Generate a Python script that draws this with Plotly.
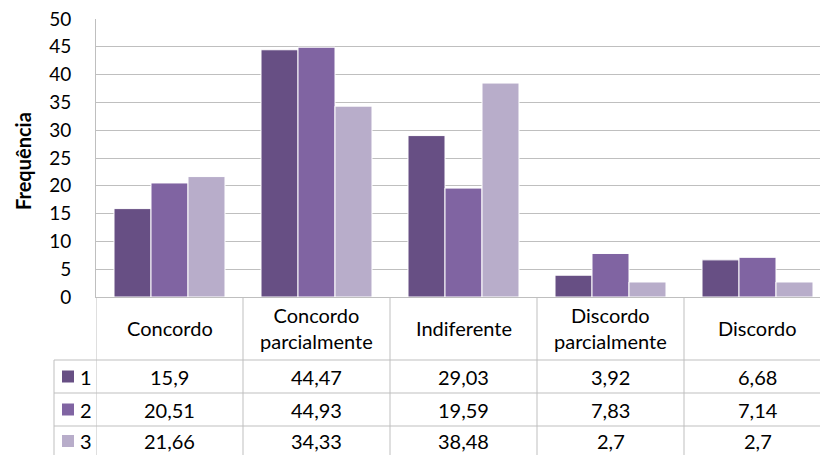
import plotly.graph_objects as go

categories = ["Concordo", "Concordo<br>parcialmente", "Indiferente", "Discordo<br>parcialmente", "Discordo"]
series_names = ["1", "2", "3"]
s1 = [15.9, 44.47, 29.03, 3.92, 6.68]
s2 = [20.51, 44.93, 19.59, 7.83, 7.14]
s3 = [21.66, 34.33, 38.48, 2.7, 2.7]
labels1 = ["15,9", "44,47", "29,03", "3,92", "6,68"]
labels2 = ["20,51", "44,93", "19,59", "7,83", "7,14"]
labels3 = ["21,66", "34,33", "38,48", "2,7", "2,7"]
colors = ["#674F84", "#8064A2", "#B8ADCA"]

W, H = 820, 455
L, T, B_AX = 96, 19, 297
CAT_W = 147
plot_w = W - L
plot_h = B_AX - T

def py(p):
    return (B_AX - p) / plot_h

def pxp(p):
    return (p - L) / plot_w

FONT = "Lato, Carlito, Open Sans, sans-serif"
GRID = "#BFBFBF"

idx = list(range(len(categories)))
fig = go.Figure()
for name, vals, col in zip(series_names, [s1, s2, s3], colors):
    fig.add_trace(go.Bar(x=idx, y=vals, name=name, marker=dict(color=col, line=dict(color="#FFFFFF", width=1))))

x_end = -0.5 + plot_w / CAT_W
fig.update_layout(
    width=W, height=H,
    margin=dict(l=L, r=0, t=T, b=H - B_AX),
    paper_bgcolor="white", plot_bgcolor="white",
    barmode="group", bargap=0.245, bargroupgap=0,
    showlegend=False,
    font=dict(family=FONT, color="#000000"),
    xaxis=dict(range=[-0.5, x_end], showticklabels=False, showgrid=False, zeroline=False,
               showline=True, linecolor=GRID, linewidth=1, ticks=""),
    yaxis=dict(range=[0, 50], dtick=5, tick0=0, showgrid=True, gridcolor=GRID, gridwidth=1,
               zeroline=False, showline=True, linecolor=GRID, linewidth=1, ticks="",
               tickfont=dict(size=19, family=FONT), ticklabelstandoff=20),
)

shapes = []
for i in range(len(categories) + 1):
    shapes.append(dict(type="line", xref="x", yref="paper", x0=i - 0.5, x1=i - 0.5,
                       y0=py(455), y1=py(297), line=dict(color=GRID, width=1)))
shapes.append(dict(type="line", xref="paper", yref="paper", x0=pxp(54), x1=pxp(54),
                   y0=py(455), y1=py(360), line=dict(color=GRID, width=1)))
for yy in [360, 393, 426]:
    shapes.append(dict(type="line", xref="paper", yref="paper", x0=pxp(54), x1=1,
                       y0=py(yy), y1=py(yy), line=dict(color=GRID, width=1)))

annotations = []
annotations.append(dict(text="<b>Frequência</b>", xref="paper", yref="paper", x=pxp(23), y=py(161),
                        textangle=-90, showarrow=False, font=dict(size=20, family=FONT),
                        xanchor="center", yanchor="middle"))
for i, c in enumerate(categories):
    annotations.append(dict(text=c, xref="x", yref="paper", x=i, y=py(328), showarrow=False,
                            font=dict(size=20, family=FONT), xanchor="center", yanchor="middle"))
row_centers = [376.5, 409.5, 441]
for r, (labs, col, nm) in enumerate(zip([labels1, labels2, labels3], colors, series_names)):
    yc = row_centers[r]
    for i, t in enumerate(labs):
        annotations.append(dict(text=t, xref="x", yref="paper", x=i, y=py(yc), showarrow=False,
                                font=dict(size=20, family=FONT), xanchor="center", yanchor="middle"))
    shapes.append(dict(type="rect", xref="paper", yref="paper", x0=pxp(62), x1=pxp(74),
                       y0=py(yc + 6), y1=py(yc - 6), fillcolor=col, line=dict(width=0)))
    annotations.append(dict(text=nm, xref="paper", yref="paper", x=pxp(78), y=py(yc), showarrow=False,
                            font=dict(size=20, family=FONT), xanchor="left", yanchor="middle"))

fig.update_layout(shapes=shapes, annotations=annotations)
fig.write_html("out.html")
